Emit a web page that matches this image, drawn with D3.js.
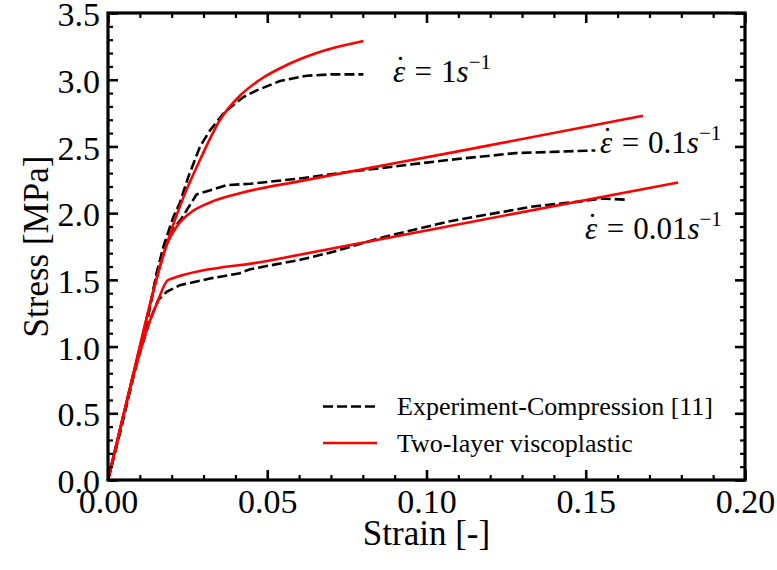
<!DOCTYPE html>
<html>
<head>
<meta charset="utf-8">
<script src="https://cdn.jsdelivr.net/npm/d3@7"></script>
<style>
  body { margin: 0; background: #fff; }
  svg { display: block; }
</style>
</head>
<body>
<svg id="chart" width="777" height="570"></svg>
<script>
// Axis tick values
const xTicks = [0.00, 0.05, 0.10, 0.15, 0.20];
const yTicks = [0.0, 0.5, 1.0, 1.5, 2.0, 2.5, 3.0, 3.5];

// Experimental compression curves [strain, stress MPa]
const expRate1 = [[0,0],[0.004,0.38],[0.008,0.78],[0.0125,1.22],[0.0153,1.55],[0.0174,1.75],[0.0205,1.97],[0.0226,2.08],[0.0252,2.27],[0.0289,2.50],[0.032,2.62],[0.0367,2.76],[0.0425,2.87],[0.0467,2.92],[0.054,2.99],[0.0624,3.03],[0.070,3.04],[0.0802,3.04]];
const expRate01 = [[0,0],[0.004,0.38],[0.008,0.78],[0.0125,1.22],[0.0153,1.55],[0.0174,1.73],[0.0195,1.85],[0.0231,1.96],[0.0278,2.14],[0.0373,2.21],[0.0446,2.22],[0.0603,2.26],[0.076,2.31],[0.1074,2.40],[0.128,2.45],[0.153,2.47]];
const expRate001 = [[0,0],[0.004,0.40],[0.008,0.80],[0.0132,1.20],[0.0158,1.35],[0.0184,1.41],[0.0226,1.46],[0.032,1.51],[0.0414,1.55],[0.0446,1.58],[0.0603,1.65],[0.0707,1.71],[0.0864,1.82],[0.1074,1.94],[0.1335,2.05],[0.149,2.09],[0.155,2.11],[0.163,2.10]];

// Two-layer viscoplastic model curves [strain, stress MPa]
const modRate1 = [[0,0],[0.008,0.80],[0.0168,1.64],[0.0200,1.88],[0.0237,2.12],[0.0289,2.40],[0.0352,2.70],[0.0414,2.88],[0.0477,3.00],[0.0561,3.11],[0.0655,3.20],[0.0802,3.29]];
const modRate01 = [[0,0],[0.008,0.80],[0.0168,1.64],[0.0184,1.76],[0.0216,1.90],[0.0257,2.00],[0.032,2.08],[0.0414,2.15],[0.0603,2.24],[0.107,2.45],[0.168,2.73]];
const modRate001 = [[0,0],[0.008,0.78],[0.0125,1.15],[0.0153,1.32],[0.0189,1.50],[0.05,1.642],[0.10,1.87],[0.179,2.23]];

// Strain-rate annotations: [strain, stress, rate text]
const rateLabels = [[0.0895, 2.983, "1"], [0.1545, 2.451, "0.1"], [0.1498, 1.807, "0.01"]];

const FONT = "'Liberation Serif', 'Times New Roman', Times, serif";

const svg = d3.select("#chart");
const x = d3.scaleLinear().domain([0, 0.2]).range([108, 745]);
const y = d3.scaleLinear().domain([0, 3.5]).range([480, 13]);

// Series
const line = d3.line().x(d => x(d[0])).y(d => y(d[1]));
const smooth = d3.line().x(d => x(d[0])).y(d => y(d[1])).curve(d3.curveMonotoneX);

const plot = svg.append("g");
[expRate1, expRate01, expRate001].forEach(s => {
  plot.append("path").attr("d", line(s)).attr("fill", "none")
    .attr("stroke", "#000").attr("stroke-width", 2.6).attr("stroke-dasharray", "10,4");
});
[modRate1, modRate01, modRate001].forEach(s => {
  plot.append("path").attr("d", smooth(s)).attr("fill", "none")
    .attr("stroke", "#ff0000").attr("stroke-width", 2.6);
});

// Axes: major and minor ticks pointing inward on all four sides
const xMinor = x.ticks(20).filter(v => !xTicks.some(t => Math.abs(t - v) < 1e-9));
const yMinor = y.ticks(35).filter(v => !yTicks.some(t => Math.abs(t - v) < 1e-9));

function styleAxis(g, width) {
  g.attr("font-family", null).attr("font-size", null);
  g.select(".domain").remove();
  g.selectAll(".tick line").attr("stroke", "#000").attr("stroke-width", width);
  g.selectAll(".tick text").style("font-family", FONT).attr("fill", "#000");
}

const gB = svg.append("g").attr("transform", "translate(0,480)")
  .call(d3.axisBottom(x).tickValues(xTicks).tickSize(-10).tickFormat(d3.format(".2f")));
styleAxis(gB, 2.6);
gB.selectAll(".tick text").attr("y", 33).attr("dy", 0).style("font-size", "34px");

const gL = svg.append("g").attr("transform", "translate(108,0)")
  .call(d3.axisLeft(y).tickValues(yTicks).tickSize(-10).tickFormat(d3.format(".1f")));
styleAxis(gL, 2.6);
gL.selectAll(".tick text").attr("x", -8).attr("dy", "0.37em").style("font-size", "34px");

const gT = svg.append("g").attr("transform", "translate(0,13)")
  .call(d3.axisTop(x).tickValues(xTicks).tickSize(-10).tickFormat(""));
styleAxis(gT, 2.6);
const gR = svg.append("g").attr("transform", "translate(745,0)")
  .call(d3.axisRight(y).tickValues(yTicks).tickSize(-10).tickFormat(""));
styleAxis(gR, 2.6);

[[d3.axisBottom(x), 480, xMinor, true], [d3.axisTop(x), 13, xMinor, true],
 [d3.axisLeft(y), 108, yMinor, false], [d3.axisRight(y), 745, yMinor, false]].forEach(([ax, pos, vals, horiz]) => {
  const g = svg.append("g").attr("transform", horiz ? `translate(0,${pos})` : `translate(${pos},0)`)
    .call(ax.tickValues(vals).tickSize(-5).tickFormat(""));
  styleAxis(g, 2.2);
});

// Frame
svg.append("rect").attr("x", 108).attr("y", 13).attr("width", 745 - 108).attr("height", 480 - 13)
  .attr("fill", "none").attr("stroke", "#000").attr("stroke-width", 3.2);

// Axis titles
svg.append("text").attr("x", 426.5).attr("y", 545).attr("text-anchor", "middle")
  .style("font-family", FONT).style("font-size", "35px").text("Strain [-]");
svg.append("text").attr("transform", "translate(48,246.5) rotate(-90)").attr("text-anchor", "middle")
  .style("font-family", FONT).style("font-size", "35px").text("Stress [MPa]");

// Strain-rate annotations: epsilon with an overdot, then "= rate s^-1"
rateLabels.forEach(([sx, sy, r]) => {
  const t = svg.append("text").attr("x", x(sx)).attr("y", y(sy))
    .style("font-family", FONT).style("font-size", "31px");
  t.append("tspan").style("font-style", "italic").text("\u03B5");
  t.append("tspan").attr("dx", -10).attr("dy", -4).text("\u02D9");
  t.append("tspan").attr("dx", 9).attr("dy", 4).text("=");
  t.append("tspan").attr("dx", 9).text(r);
  t.append("tspan").style("font-style", "italic").text("s");
  t.append("tspan").attr("dy", -13).style("font-size", "21px").text("\u22121");
});

// Legend
const legend = svg.append("g");
legend.append("line").attr("x1", 323).attr("x2", 377).attr("y1", 406.5).attr("y2", 406.5)
  .attr("stroke", "#000").attr("stroke-width", 2.6).attr("stroke-dasharray", "10,4");
legend.append("text").attr("x", 397).attr("y", 415).style("font-family", FONT)
  .style("font-size", "26px").text("Experiment-Compression [11]");
legend.append("line").attr("x1", 323).attr("x2", 377).attr("y1", 443).attr("y2", 443)
  .attr("stroke", "#ff0000").attr("stroke-width", 2.6);
legend.append("text").attr("x", 397).attr("y", 451.5).style("font-family", FONT)
  .style("font-size", "26px").text("Two-layer viscoplastic");
</script>
</body>
</html>
